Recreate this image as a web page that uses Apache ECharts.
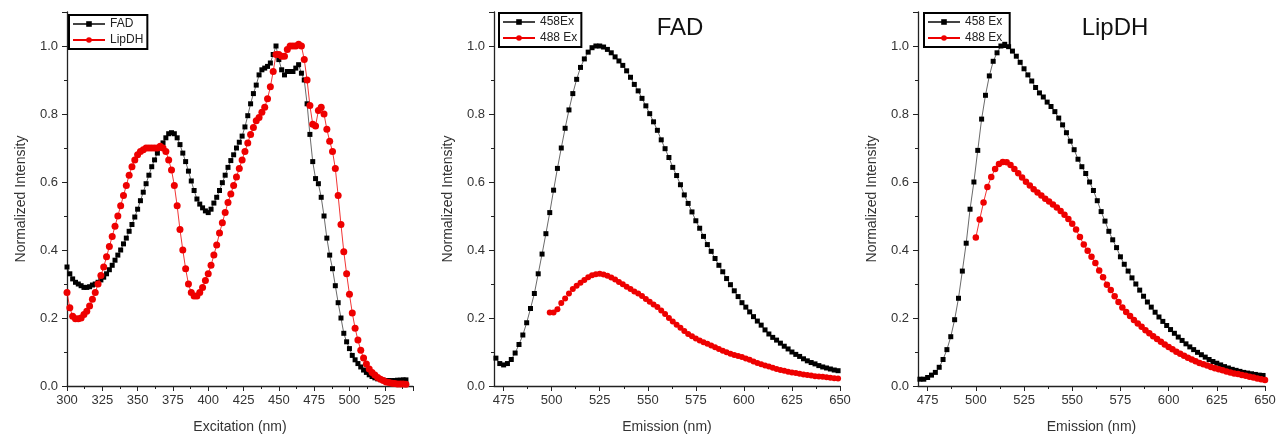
<!DOCTYPE html>
<html>
<head>
<meta charset="utf-8">
<script src="https://cdn.jsdelivr.net/npm/echarts@6/dist/echarts.min.js"></script>
<style>
  html, body { margin: 0; padding: 0; background: #fff; }
  #chart { width: 1278px; height: 435px; }
</style>
</head>
<body>
<div id="chart"></div>
<script>
// ---------- Panel 1: excitation spectra ----------
var exWavelength = [
  300,302,304,306,308,310,312,314,316,318,
  320,322,324,326,328,330,332,334,336,338,
  340,342,344,346,348,350,352,354,356,358,
  360,362,364,366,368,370,372,374,376,378,
  380,382,384,386,388,390,392,394,396,398,
  400,402,404,406,408,410,412,414,416,418,
  420,422,424,426,428,430,432,434,436,438,
  440,442,444,446,448,450,452,454,456,458,
  460,462,464,466,468,470,472,474,476,478,
  480,482,484,486,488,490,492,494,496,498,
  500,502,504,506,508,510,512,514,516,518,
  520,522,524,526,528,530,532,534,536,538,
  540
];
var exFAD = [
  0.35,0.33,0.315,0.305,0.30,0.295,0.29,0.29,0.292,0.297,
  0.30,0.305,0.312,0.32,0.33,0.342,0.355,0.37,0.385,0.40,
  0.418,0.435,0.455,0.475,0.497,0.52,0.545,0.57,0.595,0.62,
  0.645,0.665,0.685,0.70,0.715,0.73,0.742,0.745,0.742,0.73,
  0.71,0.685,0.66,0.632,0.603,0.575,0.55,0.535,0.524,0.515,
  0.51,0.52,0.538,0.555,0.575,0.598,0.62,0.643,0.663,0.68,
  0.70,0.717,0.735,0.762,0.795,0.83,0.86,0.885,0.915,0.93,
  0.935,0.94,0.95,0.975,1.0,0.96,0.93,0.915,0.925,0.925,
  0.925,0.935,0.945,0.92,0.90,0.83,0.74,0.66,0.61,0.595,
  0.555,0.50,0.435,0.385,0.345,0.295,0.245,0.20,0.155,0.13,
  0.11,0.09,0.077,0.066,0.056,0.047,0.04,0.033,0.028,0.024,
  0.021,0.019,0.017,0.016,0.016,0.016,0.016,0.017,0.017,0.018,
  0.018
];
var exLipDH = [
  0.275,0.23,0.205,0.198,0.198,0.20,0.21,0.22,0.235,0.255,
  0.275,0.30,0.325,0.35,0.38,0.41,0.44,0.47,0.50,0.53,
  0.56,0.59,0.62,0.645,0.665,0.68,0.69,0.695,0.70,0.70,
  0.70,0.70,0.70,0.705,0.70,0.69,0.665,0.635,0.59,0.53,
  0.46,0.40,0.345,0.30,0.275,0.265,0.265,0.275,0.29,0.31,
  0.33,0.355,0.385,0.415,0.45,0.48,0.51,0.54,0.565,0.59,
  0.615,0.64,0.665,0.69,0.715,0.74,0.76,0.78,0.79,0.805,
  0.82,0.845,0.88,0.925,0.975,0.975,0.97,0.97,0.99,1.0,
  1.0,1.0,1.005,1.0,0.96,0.90,0.825,0.77,0.765,0.81,
  0.82,0.80,0.755,0.72,0.69,0.64,0.56,0.475,0.395,0.33,
  0.27,0.215,0.17,0.135,0.105,0.082,0.065,0.05,0.04,0.032,
  0.025,0.02,0.016,0.012,0.01,0.008,0.007,0.006,0.006,0.006,
  0.005
];

// ---------- Panel 2: FAD emission ----------
var emWavelength458 = [
  471,473,475,477,479,481,483,485,487,489,
  491,493,495,497,499,501,503,505,507,509,
  511,513,515,517,519,521,523,525,527,529,
  531,533,535,537,539,541,543,545,547,549,
  551,553,555,557,559,561,563,565,567,569,
  571,573,575,577,579,581,583,585,587,589,
  591,593,595,597,599,601,603,605,607,609,
  611,613,615,617,619,621,623,625,627,629,
  631,633,635,637,639,641,643,645,647,649
];
var fad458Ex = [
  0.082,0.066,0.062,0.066,0.078,0.097,0.122,0.15,0.186,0.228,
  0.272,0.33,0.388,0.448,0.51,0.576,0.64,0.70,0.758,0.812,
  0.86,0.902,0.937,0.962,0.982,0.995,1.0,1.0,0.997,0.99,
  0.98,0.968,0.956,0.943,0.927,0.908,0.887,0.868,0.846,0.824,
  0.801,0.777,0.752,0.724,0.698,0.672,0.643,0.619,0.592,0.562,
  0.537,0.512,0.486,0.464,0.44,0.416,0.396,0.375,0.355,0.336,
  0.316,0.298,0.28,0.263,0.245,0.232,0.218,0.204,0.191,0.179,
  0.165,0.153,0.143,0.135,0.126,0.117,0.109,0.10,0.093,0.087,
  0.08,0.074,0.069,0.065,0.06,0.056,0.053,0.05,0.047,0.045
];
var emWavelength488a = [
  499,501,503,505,507,509,511,513,515,517,
  519,521,523,525,527,529,531,533,535,537,
  539,541,543,545,547,549,551,553,555,557,
  559,561,563,565,567,569,571,573,575,577,
  579,581,583,585,587,589,591,593,595,597,
  599,601,603,605,607,609,611,613,615,617,
  619,621,623,625,627,629,631,633,635,637,
  639,641,643,645,647,649
];
var fad488Ex = [
  0.216,0.216,0.226,0.244,0.257,0.272,0.285,0.295,0.304,0.312,
  0.32,0.326,0.329,0.33,0.328,0.324,0.319,0.313,0.306,0.299,
  0.292,0.285,0.278,0.272,0.265,0.256,0.248,0.24,0.232,0.222,
  0.212,0.20,0.19,0.18,0.171,0.162,0.153,0.146,0.14,0.134,
  0.129,0.124,0.119,0.114,0.109,0.104,0.099,0.095,0.091,0.088,
  0.085,0.081,0.077,0.072,0.068,0.064,0.06,0.057,0.054,0.05,
  0.047,0.045,0.042,0.04,0.038,0.036,0.034,0.032,0.031,0.029,
  0.028,0.027,0.026,0.024,0.023,0.022
];

// ---------- Panel 3: LipDH emission ----------
var lip458Ex = [
  0.02,0.02,0.025,0.032,0.04,0.055,0.078,0.107,0.145,0.195,
  0.258,0.338,0.42,0.52,0.60,0.693,0.785,0.855,0.912,0.955,
  0.98,1.0,1.005,0.998,0.985,0.97,0.952,0.933,0.915,0.897,
  0.878,0.862,0.85,0.835,0.822,0.807,0.788,0.768,0.745,0.72,
  0.695,0.667,0.645,0.625,0.60,0.575,0.545,0.513,0.485,0.455,
  0.43,0.407,0.38,0.358,0.338,0.318,0.30,0.282,0.264,0.247,
  0.232,0.217,0.203,0.19,0.178,0.166,0.155,0.144,0.134,0.124,
  0.115,0.107,0.099,0.092,0.085,0.078,0.072,0.067,0.062,0.057,
  0.053,0.049,0.046,0.043,0.04,0.038,0.036,0.034,0.032,0.031
];
var emWavelength488b = [
  500,502,504,506,508,510,512,514,516,518,
  520,522,524,526,528,530,532,534,536,538,
  540,542,544,546,548,550,552,554,556,558,
  560,562,564,566,568,570,572,574,576,578,
  580,582,584,586,588,590,592,594,596,598,
  600,602,604,606,608,610,612,614,616,618,
  620,622,624,626,628,630,632,634,636,638,
  640,642,644,646,648,650
];
var lip488Ex = [
  0.437,0.49,0.54,0.585,0.615,0.638,0.653,0.659,0.658,0.65,
  0.638,0.626,0.613,0.601,0.59,0.579,0.569,0.56,0.551,0.543,
  0.534,0.525,0.515,0.504,0.491,0.477,0.46,0.438,0.416,0.398,
  0.38,0.362,0.34,0.32,0.298,0.282,0.264,0.247,0.231,0.218,
  0.206,0.194,0.184,0.174,0.164,0.155,0.146,0.138,0.13,0.122,
  0.115,0.108,0.101,0.095,0.089,0.083,0.078,0.073,0.068,0.064,
  0.06,0.056,0.052,0.049,0.046,0.043,0.04,0.037,0.035,0.032,
  0.03,0.027,0.025,0.022,0.02,0.018
];

// ---------- Tick labels ----------
var exMajorTicks = [300,325,350,375,400,425,450,475,500,525];
var emMajorTicks = [475,500,525,550,575,600,625,650];
var emMinorTicks = [487.5,512.5,537.5,562.5,587.5,612.5,637.5];
var yTickLabels = [0.0,0.2,0.4,0.6,0.8,1.0];
var panelTitles = ['FAD','LipDH'];

function zip(xs, ys) {
  var out = [];
  for (var i = 0; i < ys.length; i++) out.push([xs[i], ys[i]]);
  return out;
}

var FONT = '"Liberation Sans", Arial, sans-serif';
var AX = '#222';
var LBL = '#333';
var BLACK = '#000000';
var RED = '#ee0000';

var grids = [
  {left: 67, top: 12, width: 346, height: 374, outerBoundsMode: 'none', containLabel: false},
  {left: 494, top: 12, width: 346, height: 374, outerBoundsMode: 'none', containLabel: false},
  {left: 918, top: 12, width: 347, height: 374, outerBoundsMode: 'none', containLabel: false}
];

function yAxisFor(gi) {
  return {
    type: 'value', gridIndex: gi, min: 0, max: 1.1, interval: 0.2,
    name: 'Normalized Intensity', nameLocation: 'middle', nameGap: 39,
    nameTextStyle: {fontSize: 14, color: LBL, fontFamily: FONT},
    axisLine: {show: true, lineStyle: {color: AX, width: 1.3}},
    axisTick: {show: true, inside: false, length: 5, lineStyle: {color: AX, width: 1}},
    minorTick: {show: true, splitNumber: 2, length: 3, lineStyle: {color: AX, width: 1}},
    splitLine: {show: false},
    axisLabel: {
      margin: 9, fontSize: 13, color: LBL, fontFamily: FONT,
      formatter: function (v) {
        for (var i = 0; i < yTickLabels.length; i++) {
          if (Math.abs(v - yTickLabels[i]) < 1e-6) return yTickLabels[i].toFixed(1);
        }
        return '';
      }
    }
  };
}

function emMainX(gi) {
  return {
    type: 'value', gridIndex: gi, min: 470, max: 650, position: 'bottom',
    name: 'Emission (nm)', nameLocation: 'middle', nameGap: 34,
    nameTextStyle: {fontSize: 14, color: LBL, fontFamily: FONT},
    axisLine: {show: true, onZero: false, lineStyle: {color: AX, width: 1.3}},
    axisTick: {show: true, inside: false, length: 5, customValues: emMajorTicks, lineStyle: {color: AX, width: 1}},
    axisLabel: {margin: 8, fontSize: 13, color: LBL, fontFamily: FONT, customValues: emMajorTicks, showMinLabel: true, showMaxLabel: true},
    splitLine: {show: false}
  };
}
function emMinorX(gi) {
  return {
    type: 'value', gridIndex: gi, min: 470, max: 650, position: 'bottom',
    axisLine: {show: false, onZero: false},
    axisTick: {show: true, inside: false, length: 3, customValues: emMinorTicks, lineStyle: {color: AX, width: 1}},
    axisLabel: {show: false},
    splitLine: {show: false}
  };
}

var xAxes = [
  {
    type: 'value', gridIndex: 0, min: 300, max: 545, interval: 25, position: 'bottom',
    name: 'Excitation (nm)', nameLocation: 'middle', nameGap: 34,
    nameTextStyle: {fontSize: 14, color: LBL, fontFamily: FONT},
    axisLine: {show: true, onZero: false, lineStyle: {color: AX, width: 1.3}},
    axisTick: {show: true, inside: false, length: 5, lineStyle: {color: AX, width: 1}},
    minorTick: {show: true, splitNumber: 2, length: 3, lineStyle: {color: AX, width: 1}},
    axisLabel: {
      margin: 8, fontSize: 13, color: LBL, fontFamily: FONT,
      formatter: function (v) { return exMajorTicks.indexOf(Math.round(v)) >= 0 ? String(Math.round(v)) : ''; }
    },
    splitLine: {show: false}
  },
  emMainX(1), emMinorX(1),
  emMainX(2), emMinorX(2)
];

function blackSeries(name, xi, yi, data) {
  return {
    name: name, type: 'line', xAxisIndex: xi, yAxisIndex: yi, data: data,
    symbol: 'rect', symbolSize: 5, showSymbol: true, showAllSymbol: true,
    itemStyle: {color: BLACK},
    lineStyle: {color: '#444', width: 0.8},
    emphasis: {disabled: true}, z: 2
  };
}
function redSeries(name, xi, yi, data, size) {
  return {
    name: name, type: 'line', xAxisIndex: xi, yAxisIndex: yi, data: data,
    symbol: 'circle', symbolSize: size, showSymbol: true, showAllSymbol: true,
    itemStyle: {color: RED},
    lineStyle: {color: RED, width: 0.8},
    emphasis: {disabled: true}, z: 3
  };
}

function legendFor(names, left, top) {
  return {
    data: names, orient: 'vertical', left: left, top: top,
    itemWidth: 32, itemHeight: 7, itemGap: 4,
    padding: [3, 4, 3, 3],
    borderColor: '#000', borderWidth: 2,
    selectedMode: false,
    textStyle: {fontSize: 12, color: '#222', fontFamily: FONT}
  };
}

var option = {
  animation: false,
  backgroundColor: '#fff',
  grid: grids,
  xAxis: xAxes,
  yAxis: [yAxisFor(0), yAxisFor(1), yAxisFor(2)],
  legend: [
    legendFor(['FAD', 'LipDH'], 69, 15),
    legendFor(['458Ex', '488 Ex'], 499, 13),
    legendFor(['458 Ex', '488 Ex '], 924, 13)
  ],
  title: [
    {text: panelTitles[0], left: 675, top: 11, textAlign: 'center',
     textStyle: {fontSize: 24, fontWeight: 'normal', color: '#111', fontFamily: FONT}},
    {text: panelTitles[1], left: 1110, top: 11, textAlign: 'center',
     textStyle: {fontSize: 24, fontWeight: 'normal', color: '#111', fontFamily: FONT}}
  ],
  series: [
    blackSeries('FAD', 0, 0, zip(exWavelength, exFAD)),
    redSeries('LipDH', 0, 0, zip(exWavelength, exLipDH), 7),
    blackSeries('458Ex', 1, 1, zip(emWavelength458, fad458Ex)),
    redSeries('488 Ex', 1, 1, zip(emWavelength488a, fad488Ex), 6),
    blackSeries('458 Ex', 3, 2, zip(emWavelength458, lip458Ex)),
    redSeries('488 Ex ', 3, 2, zip(emWavelength488b, lip488Ex), 6.5)
  ]
};

var chart = echarts.init(document.getElementById('chart'), null, {renderer: 'canvas'});
chart.setOption(option);
</script>
</body>
</html>
